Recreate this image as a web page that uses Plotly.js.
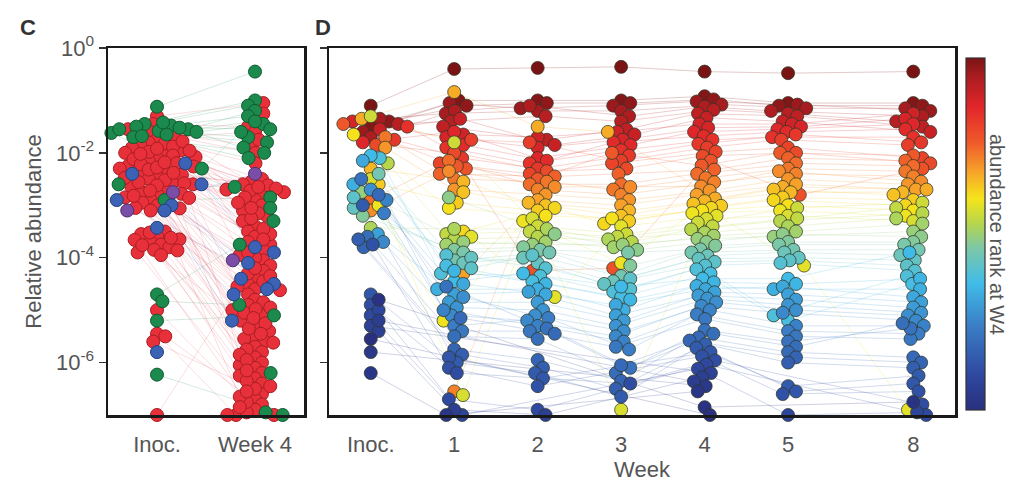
<!DOCTYPE html>
<html><head><meta charset="utf-8">
<script src="https://cdn.plot.ly/plotly-3.0.1.min.js"></script>
<style>html,body{margin:0;padding:0;background:#fff}#chart{width:1009px;height:482px}</style>
</head><body><div id="chart"></div>
<script>
// ---------------- Panel C data (log10 relative abundance; null = not detected) ----------------
const cColumns = ['Inoc.', 'Week 4'];
// group A
const cA_inoc = [-1.3,-1.45,-1.55,-1.6,-1.7,-1.75,-1.8,-1.85,-1.9,-1.95,-2.0,-1.82,-1.88,-2.05,-2.1,-2.15,-2.0,-2.2,-2.25,-2.3,-2.35,-2.4,-2.45,-2.5,-2.55,-2.6,-2.65,-2.7,-2.75,-2.8,-2.85,-2.9,-2.95,-3.0,-3.05,-3.1,-2.12,-2.22,-2.32,-2.42,-2.52,-2.62,-2.72,-2.82,-3.5,-3.55,-3.6,-3.65,-3.7,-3.75,-3.8,-3.85,-3.9,-3.95,-5.0,-5.45,-5.5,-5.6,-7.0,-1.98,-2.08,-2.28,null,null,null,null,null,null,null,null,null,null,null,null,null,null,null,null,-1.92,-2.18,-2.38,-2.58,-2.78,-3.52,-3.62,-2.02,-2.48,-1.78,
  -1.96,-2.26,-2.56,-2.86,-3.06,-3.66,-3.76,-3.86,null,null,null,null,null,null,null,null,null,null,null,null];
const cA_w4   = [-1.05,-1.5,-1.85,-2.0,-1.6,-2.2,-2.5,-2.55,-2.6,-2.7,-2.75,-2.8,-2.9,-3.0,-3.1,-3.2,-3.3,-3.4,-3.5,-2.62,-2.68,-2.72,-3.6,-3.7,-3.75,-3.85,-3.95,-4.05,-4.15,-4.25,-4.4,-4.5,-4.6,-4.7,-4.8,-4.9,-5.0,-5.1,-5.2,-5.3,-5.4,-5.5,-5.6,-5.7,-5.8,-5.9,-6.0,-6.1,-6.2,-6.3,-6.4,-6.6,-6.7,-6.8,-6.9,-7.0,-7.0,-6.5,-4.3,-3.15,-2.85,-3.55,-1.25,-1.75,-2.95,-3.25,-3.45,-4.0,-4.45,-4.85,-5.05,-5.25,-5.55,-5.75,-6.05,-6.25,-6.45,-6.95,null,null,null,null,null,null,null,-3.05,-4.55,-2.65,
  -4.35,-4.95,-5.35,-5.85,-6.35,-6.75,-5.45,-6.65,-3.65,-3.9,-4.2,-4.62,-4.98,-5.15,-5.62,-5.95,-6.15,-6.55,-6.85,-7.0];
// group B
const cB_inoc = [-1.12,-1.45,-1.5,-1.55,-1.48,-1.6,-1.52,-1.58,-1.65,-1.42,-1.7,-2.3,-2.6,-2.9,-1.62,-4.7,-4.83,-5.2,-6.23,null,null,-1.68,-1.55,null];
const cB_w4   = [-0.45,-1.0,-1.1,-1.2,-1.3,-1.45,-1.55,-1.7,-1.8,-1.9,-2.0,-1.6,-2.65,-2.85,-3.05,-3.75,-4.9,-5.1,-7.0,-6.2,-6.95,-1.4,-2.1,-3.3];
// group C
const cC_inoc = [-2.6,-2.9,-3.0,-3.1,-2.4,-3.43,-5.8,-2.2,null];
const cC_w4   = [-3.9,-4.5,-4.6,-5.2,-4.1,-4.7,null,-3.8,-4.4];
// group D
const cD_inoc = [-3.1,-2.75];
const cD_w4   = [-2.4,-4.05];

// ---------------- Panel D data (OTUs in order of abundance rank at week 4) ----------------
const dWeeks = ['Inoc.','1','2','3','4','5','8'];
const dInoc = [-1.1,
 -1.5,-1.4,-1.6,-1.35,-1.7,-1.45,null,-1.55,
 null,-1.4,-1.8,null,-1.5,-1.75,null,null,-1.85,null,
 -1.45,null,-2.9,-1.7,null,-3.1,-1.9,null,
 -1.35,-2.3,null,-2.6,null,-1.65,-3.0,null,-2.5,
 -1.3,null,-2.2,-3.43,null,-2.75,null,-3.2,
 null,-2.4,null,-3.05,-2.85,null,-2.1,null,
 -2.05,null,-2.6,-2.15,-3.55,null,null,-2.7,-3.7,-2.9,-3.15,null,
 -2.5,-3.6,-2.8,-3.8,-3.65,-3.0,-4.7,-3.75,
 -4.9,-5.1,-5.0,-5.3,-5.4,-5.2,-5.8,-6.2,
 -4.8,-5.55];
const dW1 = [-0.4,
 -1.0,-1.1,-1.05,-1.25,-1.2,-1.4,-1.5,-1.35,
 -1.65,-1.7,-1.6,-1.85,-1.9,-2.1,-1.75,-2.2,-2.0,-2.3,
 -2.25,-2.4,-2.15,-2.5,-6.55,-2.35,-2.7,-4.3,
 -0.84,-2.55,-2.75,-2.95,-3.5,-3.05,-5.2,-3.6,-6.62,
 -1.8,-3.55,-3.65,-3.45,-3.75,-3.7,-2.85,-3.85,
 -3.9,-4.05,-4.1,-4.0,-4.2,-3.95,-4.3,-4.15,
 -4.45,-4.25,-4.6,-4.5,-4.7,-4.85,-4.95,-4.75,-5.1,-5.0,-5.3,-5.4,
 -4.55,-5.5,-5.15,-5.75,-5.85,-6.0,-5.9,-6.1,
 -6.2,-6.7,-7.0,null,-6.9,null,null,-7.0,
 null,null];
const dW2 = [-0.38,
 -1.0,-1.05,-1.15,-1.2,-1.1,-1.3,-1.75,-1.85,
 -1.7,-1.9,-2.1,-2.15,-2.2,-2.3,-1.8,-2.4,-2.35,-4.25,
 -2.5,-2.45,-2.6,-2.55,-2.7,-2.65,-2.8,-2.9,
 -1.5,-2.95,-3.0,-3.1,-3.05,-3.2,-3.3,-4.75,-3.25,
 -3.4,-3.5,-3.6,-3.45,-3.7,-3.75,-3.55,-3.8,
 -3.85,-3.9,-4.0,-4.1,-3.95,-4.2,-4.35,-4.45,
 -4.3,-4.5,-4.6,-4.7,-4.65,-4.85,-5.0,-5.1,-5.2,-5.3,-5.15,-5.4,
 -5.35,-5.55,-5.45,-5.95,-6.1,-6.2,-6.3,-6.45,
 null,-6.9,null,null,-7.0,null,null,null,
 null,null];
const dW3 = [-0.36,
 -1.0,-1.05,-1.1,-1.2,-1.3,-1.4,-1.55,-1.65,
 -1.6,-1.75,-1.85,-1.8,-1.95,-2.05,-2.15,-2.2,-2.3,-4.2,
 -2.0,-2.4,-2.6,-2.7,-2.8,-2.65,-2.9,-3.0,
 -1.6,-3.1,-3.2,-3.3,-3.35,-3.25,-4.1,-3.4,-6.9,
 -3.55,-3.6,-3.7,-3.65,-3.8,-3.75,-3.85,-4.15,
 -3.9,-4.35,-4.45,-4.5,-4.4,-4.6,-4.65,-4.75,
 -4.55,-4.8,-5.0,-4.9,-5.1,-5.2,-5.3,-5.4,-5.5,-5.6,-5.75,-5.7,
 -6.1,-6.2,-6.05,-6.35,-6.5,-6.65,null,null,
 -6.4,null,null,null,null,null,null,null,
 null,null];
const dW4 = [-0.45,
 -0.92,-0.98,-1.02,-1.08,-1.12,-1.18,-1.25,-1.33,
 -1.45,-1.52,-1.6,-1.68,-1.75,-1.83,-1.9,-1.98,-2.06,-2.15,
 -2.24,-2.32,-2.4,-2.48,-2.56,-2.64,-2.72,-2.8,
 -2.87,-2.92,-2.97,-3.01,-3.05,-3.1,-3.15,-3.2,-3.26,
 -3.33,-3.4,-3.46,-3.52,-3.58,-3.64,-3.7,-3.77,
 -3.84,-3.9,-3.96,-4.02,-4.08,-4.15,-4.22,-4.3,
 -4.4,-4.47,-4.54,-4.6,-4.66,-4.72,-4.78,-4.85,-4.92,-5.0,-5.08,-5.17,
 -5.38,-5.45,-5.52,-5.58,-5.65,-5.72,-5.8,-5.88,
 -5.96,-6.04,-6.12,-6.2,-6.28,-6.36,-6.45,-6.55,
 -6.85,-7.0];
const dW5 = [-0.48,
 -1.05,-1.1,-1.08,-1.15,-1.2,-1.25,-1.3,-1.4,
 -1.45,-1.5,-1.55,-1.6,-1.7,-1.65,-1.75,-1.9,-2.0,-2.8,
 -2.0,-2.1,-2.2,-2.3,-2.4,-2.35,-2.5,-2.6,
 -2.65,-2.75,-2.7,-2.85,-2.9,-3.0,-3.1,-4.15,-3.2,
 -3.05,-3.25,-3.3,-3.4,-3.5,-3.6,-3.55,-3.7,
 -3.75,-3.85,-3.9,-4.0,-4.05,-4.1,-5.1,-5.2,
 -4.4,-4.5,-4.6,-4.55,-4.7,-4.8,-4.9,-5.0,-5.05,-5.3,-5.4,-5.5,
 -5.6,-5.7,-5.8,-5.9,-6.0,-6.45,-6.55,-6.6,
 null,null,-7.0,null,null,null,null,null,
 null,null];
const dW8 = [-0.45,
 -1.05,-1.1,-1.2,-1.15,-1.3,-1.4,-1.5,-1.6,
 -1.25,-1.35,-1.45,-1.55,-1.7,-1.8,-1.85,-2.1,-2.2,-2.3,
 -2.05,-2.15,-2.25,-2.35,-2.45,-2.55,-2.6,-2.7,
 -2.7,-2.75,-2.8,-2.9,-3.0,-3.1,-3.2,-6.9,-3.3,
 -2.95,-3.05,-3.15,-3.25,-3.35,-3.5,-3.6,-3.7,
 -3.75,-3.85,-3.95,-4.05,-4.15,-4.25,-4.35,-4.5,
 -3.9,-4.4,-4.6,-4.75,-4.85,-4.95,-5.05,-5.1,-5.2,-5.3,-5.45,-5.55,
 -5.35,-5.25,-5.9,-6.0,-6.1,-6.25,-6.4,-6.55,
 -6.8,-7.0,-6.95,null,null,null,null,null,
 -6.75,null];

// ---------------- layout geometry / styles ----------------
const W = 1009, H = 482;
const plotTop = 48, plotBot = 415;
const cLeft = 108, cRight = 304, dLeft = 329, dRight = 955;
const cRange = [-0.5, 1.5], dRange = [-0.5, 7.0];
const dColX = [0, 1, 2, 3, 4, 5, 6.5];
const yRange = [-7, 0];
const pxPerDec = (plotBot - plotTop) / (yRange[1] - yRange[0]);
const cPxPerX = (cRight - cLeft) / (cRange[1] - cRange[0]);
const dPxPerX = (dRight - dLeft) / (dRange[1] - dRange[0]);
const MS = 13, C_SPACING = 8.7, D_SPACING = 9.5;

const FONT = 'Liberation Sans, Arial, sans-serif';
const groupStyle = {
  A: {fill: '#e8303a', line: '#a81e22', lc: 'rgba(232,80,95,0.22)'},
  B: {fill: '#1c8a4c', line: '#0f5a30', lc: 'rgba(40,150,90,0.22)'},
  C: {fill: '#3b62b4', line: '#24407a', lc: 'rgba(70,100,180,0.22)'},
  D: {fill: '#7a4ea6', line: '#4e2f70', lc: 'rgba(120,80,170,0.22)'}
};
const scale = [[0,'#29307f'],[0.1,'#2f48a0'],[0.24,'#3a7ec6'],[0.36,'#40bce8'],[0.46,'#7dc7a8'],[0.53,'#b6d64c'],[0.6,'#f5e51b'],[0.68,'#f7a02a'],[0.76,'#ef5a2a'],[0.86,'#e2262a'],[0.95,'#a81c20'],[1,'#7a1414']];

function hex(h){return [parseInt(h.slice(1,3),16),parseInt(h.slice(3,5),16),parseInt(h.slice(5,7),16)];}
function colorAt(t, a){
  for (let i=1;i<scale.length;i++){
    if (t<=scale[i][0]){
      const [t0,c0]=scale[i-1],[t1,c1]=scale[i];
      const f=(t-t0)/(t1-t0), A=hex(c0), B=hex(c1);
      const c=A.map((v,k)=>Math.round(v+(B[k]-v)*f));
      return `rgba(${c[0]},${c[1]},${c[2]},${a})`;
    }
  }
  return scale[scale.length-1][1];
}

// deterministic beeswarm: returns pixel x offsets for each value (null stays null)
function swarm(vals, spacing){
  const idx = vals.map((v,i)=>i).filter(i=>vals[i]!==null && vals[i]!==undefined);
  idx.sort((a,b)=>vals[b]-vals[a]);
  const placed=[], off=new Array(vals.length).fill(null);
  const d2 = spacing*spacing;
  for (const i of idx){
    const y = -vals[i]*pxPerDec;
    const cands=[0];
    for (const p of placed){
      const dy=Math.abs(p.y-y);
      if (dy<spacing){const dx=Math.sqrt(d2-dy*dy); cands.push(p.x+dx, p.x-dx);}
    }
    cands.sort((a,b)=>Math.abs(a)-Math.abs(b));
    let best=0;
    for (const c of cands){
      let ok=true;
      for (const p of placed){const dx=p.x-c, dy=p.y-y; if (dx*dx+dy*dy<d2-1e-6){ok=false;break;}}
      if (ok){best=c;break;}
    }
    placed.push({x:best,y}); off[i]=best;
  }
  return off;
}

const traces = [];

// ---------- Panel C ----------
const groups = {A:[cA_inoc,cA_w4], B:[cB_inoc,cB_w4], C:[cC_inoc,cC_w4], D:[cD_inoc,cD_w4]};
const keys = Object.keys(groups);
const allInoc=[], allW4=[], ref=[];
keys.forEach(k=>{groups[k][0].forEach((v,i)=>{allInoc.push(v); allW4.push(groups[k][1][i]); ref.push([k,i]);});});
const offI = swarm(allInoc, C_SPACING), offW = swarm(allW4, C_SPACING);
const pos = {}; keys.forEach(k=>pos[k]={xi:[],xw:[]});
ref.forEach(([k,i],j)=>{pos[k].xi[i]=offI[j]===null?null:0+offI[j]/cPxPerX; pos[k].xw[i]=offW[j]===null?null:1+offW[j]/cPxPerX;});

keys.forEach(k=>{
  const [a,b]=groups[k]; const lx=[], ly=[];
  a.forEach((v,i)=>{ if(v!==null && b[i]!==null){ lx.push(pos[k].xi[i], pos[k].xw[i], null); ly.push(Math.pow(10,v), Math.pow(10,b[i]), null);} });
  traces.push({x:lx,y:ly,xaxis:'x',yaxis:'y',mode:'lines',line:{color:groupStyle[k].lc,width:0.9},hoverinfo:'skip',showlegend:false,cliponaxis:false});
});
keys.forEach(k=>{
  const [a,b]=groups[k]; const mx=[], my=[];
  a.forEach((v,i)=>{ if(v!==null){mx.push(pos[k].xi[i]); my.push(Math.pow(10,v));} });
  b.forEach((v,i)=>{ if(v!==null){mx.push(pos[k].xw[i]); my.push(Math.pow(10,v));} });
  traces.push({x:mx,y:my,xaxis:'x',yaxis:'y',mode:'markers',cliponaxis:false,
    marker:{size:MS,color:groupStyle[k].fill,line:{color:groupStyle[k].line,width:1}},hoverinfo:'skip',showlegend:false});
});

// ---------- Panel D ----------
const dCols = [dInoc,dW1,dW2,dW3,dW4,dW5,dW8];
const N = dW4.length;
const order = dW4.map((v,i)=>i).sort((a,b)=>dW4[b]-dW4[a]);
const rank = new Array(N); order.forEach((i,r)=>rank[i]=r);
const cval = rank.map(r=>(N-1-r)/(N-1));
const dOff = dCols.map(col=>swarm(col, D_SPACING));
const dX = dCols.map((col,c)=>col.map((v,i)=>v===null?null:dColX[c]+dOff[c][i]/dPxPerX));

for (let i=0;i<N;i++){
  const lx=[], ly=[];
  dCols.forEach((col,c)=>{ if(col[i]!==null){lx.push(dX[c][i]); ly.push(Math.pow(10,col[i]));} });
  traces.push({x:lx,y:ly,xaxis:'x2',yaxis:'y2',mode:'lines',line:{color:colorAt(cval[i],0.25),width:0.9},hoverinfo:'skip',showlegend:false,cliponaxis:false});
}
dCols.forEach((col,c)=>{
  const mx=[], my=[], mc=[];
  col.forEach((v,i)=>{ if(v!==null){mx.push(dX[c][i]); my.push(Math.pow(10,v)); mc.push(cval[i]);} });
  const tr = {x:mx,y:my,xaxis:'x2',yaxis:'y2',mode:'markers',cliponaxis:false,hoverinfo:'skip',showlegend:false,
    marker:{size:MS,color:mc,cmin:0,cmax:1,colorscale:scale,showscale:false,line:{color:'rgba(45,55,40,0.75)',width:1}}};
  if (c===4){
    tr.marker.showscale=true;
    tr.marker.colorbar={x:966/W,xanchor:'left',xpad:0,ypad:0,thickness:19,thicknessmode:'pixels',
      len:(410-58)/H,lenmode:'fraction',y:1-234/H,yanchor:'middle',outlinewidth:1.2,outlinecolor:'#333',
      showticklabels:false,ticks:''};
  }
  traces.push(tr);
});

// ---------- layout ----------
const yDom = [1-plotBot/H, 1-plotTop/H];
const tickFont = {family:FONT,size:22,color:'#555'};
const yTicks = [1,1e-2,1e-4,1e-6];
const yText = ['10<sup>0</sup>','10<sup>-2</sup>','10<sup>-4</sup>','10<sup>-6</sup>'];
const axCommon = {showline:true,mirror:true,linecolor:'#1a1a1a',linewidth:2.5,showgrid:false,zeroline:false,automargin:false};
const layout = {
  width:W,height:H,margin:{l:0,r:0,t:0,b:0},paper_bgcolor:'#fff',plot_bgcolor:'#fff',showlegend:false,
  font:{family:FONT,color:'#555'},
  xaxis:Object.assign({},axCommon,{domain:[cLeft/W,cRight/W],range:cRange,anchor:'y',tickmode:'array',tickvals:[0,1],ticktext:cColumns,ticks:'',tickfont:tickFont,ticklabelstandoff:8}),
  yaxis:Object.assign({},axCommon,{domain:yDom,anchor:'x',type:'log',range:yRange,tickmode:'array',tickvals:yTicks,ticktext:yText,ticks:'outside',ticklen:7,tickwidth:1.5,tickcolor:'#333',tickfont:tickFont,
    title:{text:'Relative abundance',font:{family:FONT,size:22,color:'#555'},standoff:8}}),
  xaxis2:Object.assign({},axCommon,{domain:[dLeft/W,dRight/W],range:dRange,anchor:'y2',tickmode:'array',tickvals:dColX,ticktext:dWeeks,ticks:'',tickfont:tickFont,ticklabelstandoff:8,
    title:{text:'Week',font:{family:FONT,size:22,color:'#555'},standoff:0}}),
  yaxis2:Object.assign({},axCommon,{domain:yDom,anchor:'x2',type:'log',range:yRange,tickmode:'array',tickvals:yTicks,ticks:'outside',ticklen:7,tickwidth:1.5,tickcolor:'#333',showticklabels:false}),
  annotations:[
    {text:'<b>C</b>',xref:'paper',yref:'paper',x:28/W,y:1-27/H,xanchor:'center',yanchor:'middle',showarrow:false,font:{family:FONT,size:22,color:'#333'}},
    {text:'<b>D</b>',xref:'paper',yref:'paper',x:323/W,y:1-27/H,xanchor:'center',yanchor:'middle',showarrow:false,font:{family:FONT,size:22,color:'#333'}},
    {text:'abundance rank at W4',xref:'paper',yref:'paper',x:997/W,y:1-234/H,xanchor:'center',yanchor:'middle',textangle:90,showarrow:false,font:{family:FONT,size:20,color:'#555'}}
  ]
};
Plotly.newPlot('chart',traces,layout,{staticPlot:true,displayModeBar:false});
</script>
</body></html>
